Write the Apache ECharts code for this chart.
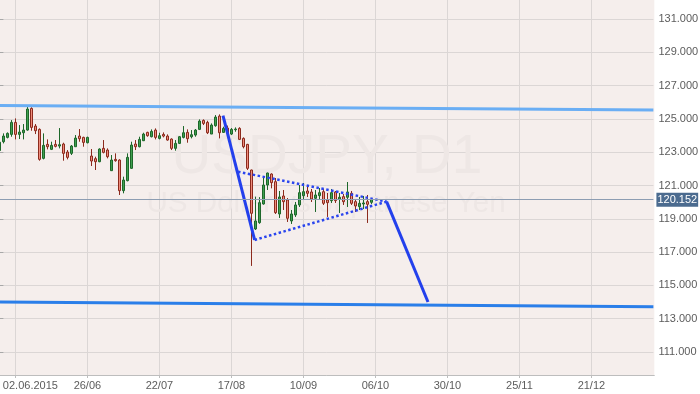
<!DOCTYPE html>
<html>
<head>
<meta charset="utf-8">
<script src="https://cdn.jsdelivr.net/npm/echarts@6/dist/echarts.min.js"></script>
<style>html,body{margin:0;padding:0;background:#fff}#c{width:700px;height:394px}</style>
</head>
<body>
<div id="c"></div>
<script>
// ---- data (daily USDJPY bars, index 0 = 27.05.2015) ----
const opens  = [123.10,123.63,123.89,124.07,124.79,124.07,124.17,124.33,125.63,124.57,124.37,122.63,123.47,123.17,123.47,123.37,123.49,123.01,122.93,123.33,123.97,123.89,123.57,122.77,122.61,122.43,123.23,123.13,121.89,122.57,122.53,120.69,121.29,122.03,123.49,123.33,123.69,124.19,123.93,124.33,123.83,124.07,123.97,123.79,123.23,123.53,123.89,124.19,123.93,124.03,124.37,124.91,124.79,124.09,124.59,125.17,124.19,124.45,124.09,124.35,124.43,123.83,123.47,121.93,118.39,118.77,119.89,121.03,121.69,121.23,119.29,120.37,120.13,118.87,119.23,119.83,120.39,120.67,120.61,120.23,120.39,120.63,120.13,120.09,120.61,120.17,120.33,120.29,120.53,120.03,119.73,119.89,120.03,119.99];
const closes = [123.60,123.97,124.13,124.79,124.07,124.21,124.33,125.59,124.49,124.29,122.57,123.41,123.33,123.41,123.35,123.45,122.93,122.69,123.37,123.85,123.81,123.59,123.89,122.47,122.43,123.19,122.99,122.73,122.53,122.49,120.69,121.33,122.69,123.43,123.33,123.77,124.09,123.99,124.25,123.89,123.99,123.97,123.73,123.23,123.53,123.93,124.17,123.81,124.05,124.33,124.87,124.73,124.17,124.63,125.11,124.17,124.43,124.15,124.37,124.39,123.77,123.33,122.03,119.33,118.87,119.97,121.03,121.75,121.17,119.37,120.31,120.03,119.03,119.29,119.83,120.57,120.63,120.53,120.19,120.43,120.57,119.93,119.97,120.57,120.09,120.29,120.03,120.61,119.93,119.77,119.93,119.95,119.87,120.152];
const lows   = [123.00,123.53,123.83,123.93,123.77,123.79,123.77,124.29,124.29,124.09,122.49,122.57,123.17,123.13,123.29,123.23,122.49,122.57,122.83,123.33,123.63,123.33,123.53,122.17,121.93,122.40,122.93,122.63,121.87,122.43,120.43,120.53,121.25,122.00,123.13,123.29,123.67,123.93,123.89,123.77,123.77,123.89,123.69,123.13,123.09,123.49,123.83,123.57,123.83,123.93,124.33,124.63,124.09,124.09,124.53,123.83,124.17,124.05,124.03,124.23,123.73,123.23,121.93,116.17,118.33,118.70,119.85,120.73,120.83,119.29,119.05,119.53,118.81,118.69,119.11,119.71,120.13,120.31,120.01,119.41,120.13,119.83,119.11,119.95,119.95,119.35,119.83,119.71,119.83,119.41,119.53,119.59,118.75,119.89];
const highs  = [123.80,124.13,124.19,124.93,125.03,124.63,124.69,125.73,125.70,124.69,124.43,124.13,123.77,123.63,123.73,124.45,123.57,123.13,123.43,124.03,124.39,123.93,123.93,123.19,122.73,123.23,123.73,123.23,122.83,122.93,122.57,121.53,122.93,123.63,123.73,123.93,124.17,124.23,124.37,124.43,124.17,124.19,124.07,123.83,123.73,123.97,124.57,124.37,124.33,124.39,124.97,124.97,124.89,124.73,125.23,125.27,124.53,124.60,124.45,124.49,124.50,123.89,123.50,121.95,120.33,120.30,121.53,121.77,121.73,121.45,120.67,120.73,120.25,119.53,120.01,121.03,121.15,120.97,120.79,120.73,120.85,120.79,120.55,120.79,120.67,120.55,120.49,121.21,120.67,120.13,120.31,120.37,120.43,120.25];
const barCount = 164;                       // bar slots across the chart
const xLabels = ['02.06.2015','26/06','22/07','17/08','10/09','06/10','30/10','25/11','21/12'];
const xLabelFirst = 4, xLabelStep = 18;     // bar index of first label, bars between labels
const yTicks = {min: 111, max: 133, step: 2};
const lastPrice = 120.152;
// trend lines: [barIndex, price]
const upperChannel = [[-0.5, 125.80], [163.5, 125.53]];
const lowerChannel = [[-0.5, 114.00], [163.5, 113.72]];
const dropLine     = [[55.9, 125.20], [63.8, 117.73]];
const forecastLine = [[96.8, 120.03], [107.15, 114.00]];
const triUpper     = [[59.65, 121.83], [96.8, 120.03]];
const triLower     = [[63.8, 117.73], [96.8, 120.03]];

// ---- chart ----
const categories = Array.from({length: barCount}, (_, i) => String(i));
const candles = opens.map((o, i) => [o, closes[i], lows[i], highs[i]]);
const FONT = "'Liberation Sans Narrow', 'Arial Narrow', 'Liberation Sans', Arial, sans-serif";
const FS = 11;
const GRID_COL = '#dbd6d5';
const chart = echarts.init(document.getElementById('c'), null, {renderer: 'canvas'});

// bar i is centred at x = -0.6 + 4*i px
const BAR_W = 4, X0 = -0.6;
const plotRight = 654.3, plotBottom = 375;
const pxPerUnit = 16.65, y131 = 19;
const g0Top = y131 - (yTicks.max - 131) * pxPerUnit;
const g0Bottom = y131 + (131 - yTicks.min) * pxPerUnit;
const g0Left = X0 - BAR_W / 2;
const g0Right = 700 - (g0Left + BAR_W * barCount);
const g1Min = -5;
const g1Left = X0 + BAR_W * g1Min;
const g1Max = (plotRight - X0) / BAR_W;

const lineSeries = (data, color, width, type) => ({
  type: 'line', xAxisIndex: 1, yAxisIndex: 0, data, symbol: 'none', silent: true,
  lineStyle: {color, width, type, cap: 'butt'}, z: 4, clip: false
});

chart.setOption({
  animation: false,
  backgroundColor: '#ffffff',
  grid: [
    {left: g0Left, right: g0Right, top: g0Top, bottom: 394 - g0Bottom,
     containLabel: false, outerBoundsMode: 'none'},
    {left: g1Left, right: 700 - plotRight, top: 0, bottom: 394 - plotBottom,
     containLabel: false, outerBoundsMode: 'none',
     show: true, backgroundColor: '#f5eeec', borderWidth: 0}
  ],
  graphic: [
    {type: 'text', x: 327, y: 157.5, z: 1, silent: true,
     style: {text: 'USDJPY, D1', font: "55px 'Liberation Sans', Arial, sans-serif", fill: '#eee7e5', textAlign: 'center', textVerticalAlign: 'middle'}},
    {type: 'text', x: 326, y: 204, z: 1, silent: true,
     style: {text: 'US Dollar vs Japanese Yen', font: "29.6px 'Liberation Sans', Arial, sans-serif", fill: '#eee7e5', textAlign: 'center', textVerticalAlign: 'middle'}}
  ],
  xAxis: [
    {type: 'category', gridIndex: 0, data: categories, boundaryGap: true, show: false},
    {type: 'value', gridIndex: 0, min: -0.5, max: barCount - 0.5, show: false},
    {type: 'value', gridIndex: 1, min: g1Min, max: g1Max, interval: 9, position: 'bottom',
     axisLine: {show: true, lineStyle: {color: '#bdbdbd', width: 1}},
     axisTick: {show: true, length: 3, lineStyle: {color: '#bdbdbd'},
                customValues: xLabels.map((_, k) => xLabelFirst + k * xLabelStep)},
     splitLine: {show: true, lineStyle: {color: GRID_COL, width: 1}},
     axisLabel: {
       show: true, margin: 5, color: '#5c5c5c', fontFamily: FONT, fontSize: FS,
       showMinLabel: true, showMaxLabel: true, hideOverlap: false,
       formatter: v => {
         const k = (v - xLabelFirst) / xLabelStep;
         if (Number.isInteger(k) && k >= 0 && k < xLabels.length) {
           return k === 0 ? '{first|' + xLabels[0] + '}' : xLabels[k];
         }
         return '';
       },
       rich: {first: {padding: [0, 0, 0, 30], fontFamily: FONT, fontSize: FS, color: '#5c5c5c'}}
     }}
  ],
  yAxis: [
    {type: 'value', gridIndex: 0, position: 'right', min: yTicks.min, max: yTicks.max, interval: yTicks.step,
     axisLine: {show: false},
     axisTick: {show: true, length: 4, lineStyle: {color: '#a8a8a8'}},
     splitLine: {show: true, lineStyle: {color: GRID_COL, width: 1}},
     axisLabel: {show: true, margin: 5, color: '#5c5c5c', fontFamily: FONT, fontSize: FS,
                 formatter: v => v.toFixed(3)}},
    {type: 'value', gridIndex: 1, position: 'right', min: 0, max: 1,
     axisLine: {show: true, lineStyle: {color: '#b5b5b5', width: 1}},
     axisTick: {show: false}, axisLabel: {show: false}, splitLine: {show: false}}
  ],
  series: [
    {
      type: 'candlestick', xAxisIndex: 0, yAxisIndex: 0, data: candles, barWidth: 2, z: 3,
      itemStyle: {color: '#3f9f4f', color0: '#ee8c7c', borderColor: '#1d672a', borderColor0: '#8c2a1d', borderWidth: 1},
      markLine: {
        silent: true, symbol: ['none', 'none'], animation: false,
        data: [{yAxis: lastPrice}],
        lineStyle: {color: '#8d9db2', width: 1, type: 'solid'},
        label: {show: true, position: 'end', distance: 3, formatter: lastPrice.toFixed(3),
                backgroundColor: '#4b6b8f', color: '#ffffff', padding: [2, 1, 1, 1],
                fontFamily: FONT, fontSize: FS}
      }
    },
    lineSeries(upperChannel, '#6aaef4', 3, 'solid'),
    lineSeries(lowerChannel, '#2a7ee9', 3, 'solid'),
    lineSeries(dropLine, '#2340ec', 3, 'solid'),
    lineSeries(forecastLine, '#2340ec', 3, 'solid'),
    lineSeries(triUpper, '#2a45ee', 2.5, [2.5, 2.5]),
    lineSeries(triLower, '#2a45ee', 2.5, [2.5, 2.5])
  ]
});
</script>
</body>
</html>
